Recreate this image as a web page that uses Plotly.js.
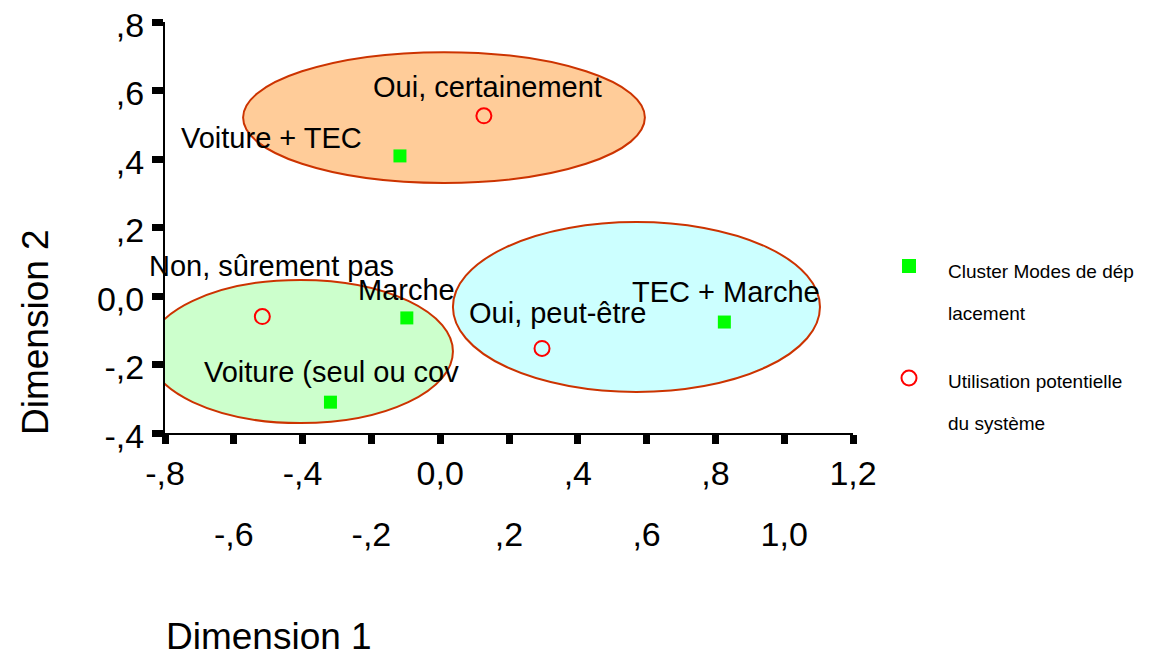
<!DOCTYPE html>
<html>
<head>
<meta charset="utf-8">
<script src="https://cdn.plot.ly/plotly-3.0.1.min.js"></script>
<style>html,body{margin:0;padding:0;background:#fff}#chart{width:1159px;height:660px}</style>
</head>
<body>
<div id="chart"></div>
<script>
// ---------- data ----------
const clusterNames = ['Voiture + TEC', 'Marche', 'Voiture (seul ou cov', 'TEC + Marche'];
const clusterX = [-0.117, -0.097, -0.319, 0.826];
const clusterY = [0.409, -0.064, -0.310, -0.076];

const usageNames = ['Oui, certainement', 'Non, sûrement pas', 'Oui, peut-être'];
const usageX = [0.127, -0.517, 0.296];
const usageY = [0.526, -0.060, -0.153];

// group ellipses (data units): left, right, bottom, top
const groupX0 = [-0.573, -0.849, 0.037];
const groupX1 = [0.595, 0.037, 1.104];
const groupY0 = [0.330, -0.371, -0.280];
const groupY1 = [0.712, 0.047, 0.216];

const xTickVals = [-0.8, -0.6, -0.4, -0.2, 0.0, 0.2, 0.4, 0.6, 0.8, 1.0, 1.2];
const xTickRow1 = ['-,8', '', '-,4', '', '0,0', '', ',4', '', ',8', '', '1,2'];
const xTickRow2 = ['', '-,6', '', '-,2', '', ',2', '', ',6', '', '1,0', ''];
const yTickVals = [-0.4, -0.2, 0.0, 0.2, 0.4, 0.6, 0.8];
const yTickText = ['-,4', '-,2', '0,0', ',2', ',4', ',6', ',8'];

const legendNames = ['Cluster Modes de dép', 'lacement', 'Utilisation potentielle', 'du système'];
const axisTitleX = 'Dimension 1';
const axisTitleY = 'Dimension 2';

// ---------- styles / positions ----------
const FONT = 'Liberation Sans, Arial, Helvetica, sans-serif';
const M = {l: 165, r: 306, t: 22, b: 227};
const W = 1159, H = 660;
const PW = W - M.l - M.r, PH = H - M.t - M.b;
const px2x = px => (px - M.l) / PW;
const py2y = py => (H - M.b - py) / PH;

const clusterOffsets = [[-128, 18], [0, 28], [1, 30], [2, 30]];
const usageOffsets = [[4, 29], [9, 51], [15, 35]];
const ellipseFill = ['#FFCC99', '#CCFFCC', '#CCFFFF'];
const ellipseLine = '#CC3300';
const TICK_SIZE = 34;

const traces = [
  {
    x: clusterX, y: clusterY, text: clusterNames, type: 'scatter', mode: 'markers',
    name: legendNames[0] + legendNames[1], showlegend: false, hoverinfo: 'text',
    marker: {symbol: 'square', size: 13, color: '#00FF00'}
  },
  {
    x: usageX, y: usageY, text: usageNames, type: 'scatter', mode: 'markers',
    name: legendNames[2] + ' ' + legendNames[3], showlegend: false, hoverinfo: 'text',
    marker: {symbol: 'circle-open', size: 15, color: '#FF0000', line: {width: 2, color: '#FF0000'}}
  },
  // empty trace so the second (label-row) x axis is drawn
  {x: [], y: [], xaxis: 'x2', yaxis: 'y', type: 'scatter', mode: 'markers', showlegend: false, hoverinfo: 'skip'}
];

const shapes = [];
for (let i = 0; i < groupX0.length; i++) {
  shapes.push({type: 'circle', xref: 'x', yref: 'y', x0: groupX0[i], x1: groupX1[i], y0: groupY0[i], y1: groupY1[i],
    fillcolor: ellipseFill[i], line: {width: 0}, layer: 'below'});
}
for (let i = 0; i < groupX0.length; i++) {
  shapes.push({type: 'circle', xref: 'x', yref: 'y', x0: groupX0[i], x1: groupX1[i], y0: groupY0[i], y1: groupY1[i],
    fillcolor: 'rgba(0,0,0,0)', line: {width: 2, color: ellipseLine}, layer: 'below'});
}
// legend symbols
shapes.push({type: 'rect', xref: 'paper', yref: 'paper', xsizemode: 'pixel', ysizemode: 'pixel',
  xanchor: px2x(909), yanchor: py2y(266), x0: -7, x1: 7, y0: -7, y1: 7,
  fillcolor: '#00FF00', line: {width: 0}});
shapes.push({type: 'circle', xref: 'paper', yref: 'paper', xsizemode: 'pixel', ysizemode: 'pixel',
  xanchor: px2x(909), yanchor: py2y(378), x0: -7.5, x1: 7.5, y0: -7.5, y1: 7.5,
  fillcolor: 'rgba(0,0,0,0)', line: {width: 2, color: '#FF0000'}});

const annotations = [];
const labelFont = {family: FONT, size: 29, color: '#000'};
clusterNames.forEach((t, i) => annotations.push({x: clusterX[i], y: clusterY[i], xref: 'x', yref: 'y', text: t,
  showarrow: false, xanchor: 'center', yanchor: 'middle', xshift: clusterOffsets[i][0], yshift: clusterOffsets[i][1], font: labelFont}));
usageNames.forEach((t, i) => annotations.push({x: usageX[i], y: usageY[i], xref: 'x', yref: 'y', text: t,
  showarrow: false, xanchor: 'center', yanchor: 'middle', xshift: usageOffsets[i][0], yshift: usageOffsets[i][1], font: labelFont}));

const legendY = [271, 313, 381, 423];
legendNames.forEach((t, i) => annotations.push({x: px2x(946), y: py2y(legendY[i]), xref: 'paper', yref: 'paper', text: t,
  showarrow: false, xanchor: 'left', yanchor: 'middle', font: {family: FONT, size: 19, color: '#000'}}));

annotations.push({x: px2x(269), y: py2y(659), xref: 'paper', yref: 'paper', text: axisTitleX, showarrow: false,
  xanchor: 'center', yanchor: 'bottom', font: {family: FONT, size: 37, color: '#000'}});
annotations.push({x: px2x(35), y: py2y(332), xref: 'paper', yref: 'paper', text: axisTitleY, showarrow: false,
  textangle: -90, xanchor: 'center', yanchor: 'middle', font: {family: FONT, size: 37, color: '#000'}});

const axisCommon = {
  showgrid: false, zeroline: false, showline: true, linewidth: 2, linecolor: '#000',
  ticks: 'outside', ticklen: 11, tickwidth: 7, tickcolor: '#000', tickmode: 'array',
  tickfont: {family: FONT, size: TICK_SIZE, color: '#000'}, fixedrange: true
};

const layout = {
  width: W, height: H,
  margin: {l: M.l, r: M.r, t: M.t, b: M.b, pad: 0},
  paper_bgcolor: '#fff', plot_bgcolor: 'rgba(0,0,0,0)',
  showlegend: false,
  xaxis: Object.assign({}, axisCommon, {range: [-0.8, 1.2], tickvals: xTickVals, ticktext: xTickRow1, ticklabelstandoff: 0, ticklen: 9}),
  xaxis2: {overlaying: 'x', anchor: 'y', side: 'bottom', range: [-0.8, 1.2], showgrid: false, zeroline: false,
    showline: false, ticks: '', tickmode: 'array', tickvals: xTickVals, ticktext: xTickRow2,
    ticklabelstandoff: 78, tickfont: {family: FONT, size: TICK_SIZE, color: '#000'}, fixedrange: true},
  yaxis: Object.assign({}, axisCommon, {range: [-0.4, 0.8], tickvals: yTickVals, ticktext: yTickText,
    ticklabelstandoff: 1, ticklabelshift: 3}),
  shapes: shapes,
  annotations: annotations
};

Plotly.newPlot('chart', traces, layout, {displayModeBar: false, staticPlot: true});
</script>
</body>
</html>
